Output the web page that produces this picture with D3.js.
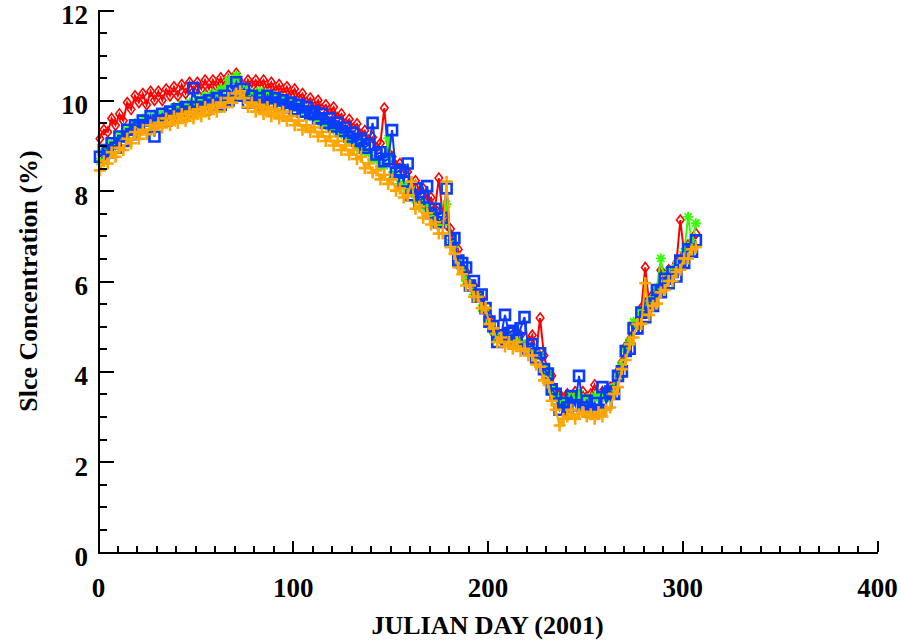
<!DOCTYPE html>
<html lang="en">
<head>
<meta charset="UTF-8">
<title>Slce Concentration 2001</title>
<script src="https://d3js.org/d3.v7.min.js"></script>
<style>
body { margin: 0; background: #ffffff; }
.axis path, .axis line { stroke: #000; stroke-width: 2; shape-rendering: crispEdges; }
.axis text { font-family: "Liberation Serif", serif; font-weight: bold; font-size: 27px; fill: #000; }
.label { font-family: "Liberation Serif", serif; font-weight: bold; font-size: 26px; fill: #000; }
.line { fill: none; stroke-width: 2; }
</style>
</head>
<body>
<div id="chart"></div>
<script>
// julian days sampled (every second day)
const days = [
  1,3,5,7,9, 11,13,15,17,19, 21,23,25,27,29, 31,33,35,37,39, 41,43,45,47,49,
  51,53,55,57,59, 61,63,65,67,69, 71,73,75,77,79, 81,83,85,87,89, 91,93,95,97,99,
  101,103,105,107,109, 111,113,115,117,119, 121,123,125,127,129, 131,133,135,137,139,
  141,143,145,147,149, 151,153,155,157,159, 161,163,165,167,169, 171,173,175,177,179,
  181,183,185,187,189, 191,193,195,197,199, 201,203,205,207,209, 211,213,215,217,219,
  221,223,225,227,229, 231,233,235,237,239, 241,243,245,247,249, 251,253,255,257,259,
  261,263,265,267,269, 271,273,275,277,279, 281,283,285,287,289, 291,293,295,297,299,
  301,303,305,307
];

// red diamonds
const redSeries = [
  9.15,9.35,9.3,9.6,9.45, 9.7,9.55,9.95,9.8,10.1, 9.95,10.15,9.9,10.2,10.0, 10.2,10.0,10.25,10.1,10.3,
  10.1,10.35,10.15,10.4,10.2, 10.4,10.25,10.45,10.25,10.45, 10.3,10.5,10.3,10.55,10.35, 10.6,10.4,10.2,10.45,10.3,
  10.45,10.3,10.45,10.25,10.4, 10.2,10.35,10.15,10.3,10.1, 10.25,10.05,10.15,9.95,10.05, 9.85,10.0,9.8,9.9,9.7,
  9.85,9.62,9.7,9.48,9.58, 9.38,9.48,9.25,9.33,9.12, 9.18,8.95,9.05,9.83,8.85, 8.75,8.55,8.6,8.4,8.42,
  8.15,8.22,7.98,8.05,7.8, 7.85,7.6,8.28,7.45,7.25, 7.15,6.8,6.7,6.3,6.2, 5.95,5.9,5.65,5.6,5.35,
  5.2,4.85,4.85,4.7,4.85, 4.8,4.8,4.65,4.8,4.55, 4.65,4.8,4.45,5.18,4.35, 4.0,3.9,3.55,3.5,3.35,
  3.5,3.45,3.55,3.45,3.55, 3.4,3.5,3.7,3.45,3.55, 3.45,3.65,3.7,4.0,4.2, 4.55,4.7,5.05,5.1,5.4,
  6.3,5.5,5.7,5.75,6.24, 6.05,6.25,6.2,6.4,7.35, 6.6,6.8,6.85,7.05
];

// green asterisks
const greenSeries = [
  8.65,8.85,8.85,9.05,9.0, 9.2,9.2,9.35,9.35,9.5, 9.45,9.6,9.55,9.65,9.6, 9.7,9.65,9.75,9.7,9.85,
  9.75,9.9,9.8,9.95,9.9, 10.0,9.95,10.1,10.0,10.15, 10.1,10.25,10.25,10.45,10.45, 10.55,10.3,10.25,10.1,10.15,
  10.05,10.2,10.05,10.15,10.0, 10.1,9.95,10.05,9.9,9.95, 9.85,9.9,9.75,9.8,9.65, 9.7,9.55,9.6,9.45,9.5,
  9.35,9.4,9.25,9.3,9.1, 9.15,8.95,9.0,8.85,8.85, 8.7,8.7,8.55,8.55,9.16, 8.35,8.35,8.15,8.15,8.0,
  8.0,7.8,7.8,7.65,7.65, 7.45,7.45,7.25,7.25,7.7, 6.85,6.75,6.4,6.25,6.0, 5.95,5.7,5.65,5.4,5.35,
  5.05,4.9,4.7,4.75,4.65, 4.8,4.65,4.7,4.55,4.6, 4.45,4.5,4.35,4.35,4.05, 3.95,3.6,3.45,3.25,3.35,
  3.3,3.45,3.35,3.5,3.35, 3.4,3.3,3.45,3.4,3.5, 3.4,3.6,3.65,3.95,4.15, 4.5,4.65,5.1,5.05,5.3,
  5.35,5.55,5.6,5.85,6.5, 5.95,6.2,6.15,6.35,6.4, 6.65,7.42,6.85,7.28
];

// blue squares
const blueSeries = [
  8.75,8.9,8.85,9.05,8.95, 9.2,9.1,9.35,9.25,9.45, 9.4,9.55,9.45,9.65,9.2, 9.55,9.7,9.55,9.75,9.65,
  9.8,9.65,9.85,9.75,10.27, 9.85,9.95,9.8,10.0,9.9, 10.05,9.9,10.1,10.0,10.2, 10.4,10.1,10.25,9.95,10.1,
  9.95,10.05,9.9,10.1,9.95, 10.05,9.9,10.0,9.85,9.95, 9.8,9.9,9.75,9.85,9.7, 9.75,9.6,9.7,9.5,9.6,
  9.42,9.5,9.32,9.4,9.2, 9.28,9.1,9.15,8.95,9.02, 9.5,8.8,8.85,8.65,8.7, 9.34,8.4,8.45,8.2,8.6,
  7.9,8.05,7.75,7.85,8.1, 7.5,7.6,7.3,7.4,8.05, 6.9,6.95,6.45,6.4,6.3, 5.9,6.0,5.65,5.7,5.4,
  5.1,5.0,4.65,4.8,5.25, 4.85,4.9,4.7,4.95,5.2, 4.5,4.6,4.3,4.4,4.05, 3.95,3.6,3.5,3.15,3.3,
  3.2,3.45,3.25,3.9,3.2, 3.35,3.1,3.3,3.15,3.65, 3.3,3.55,3.5,3.9,4.0, 4.45,4.5,4.95,4.95,5.3,
  5.2,5.5,5.45,5.8,5.75, 6.05,5.95,6.2,6.1,6.45, 6.4,6.7,6.65,6.9
];

// orange plus signs
const orangeSeries = [
  8.45,8.65,8.6,8.85,8.75, 8.95,8.9,9.15,9.05,9.3, 9.15,9.35,9.25,9.45,9.35, 9.5,9.4,9.6,9.45,9.65,
  9.5,9.7,9.55,9.75,9.6, 9.8,9.65,9.85,9.7,9.9, 9.75,9.95,9.85,10.05,9.95, 10.15,10.2,10.05,9.85,9.95,
  9.75,9.9,9.7,9.85,9.65, 9.8,9.6,9.75,9.55,9.65, 9.45,9.55,9.35,9.45,9.3, 9.4,9.2,9.3,9.1,9.2,
  9.0,9.1,8.9,9.0,8.8, 8.9,8.7,8.75,8.5,8.6, 8.4,8.45,8.25,8.35,8.15, 8.25,8.0,8.05,7.85,7.9,
  8.2,7.6,7.65,7.4,7.5, 7.25,7.3,7.05,7.05,8.2, 6.75,6.6,6.3,6.15,5.9, 5.9,5.65,5.65,5.4,5.4,
  5.05,4.95,4.65,4.75,4.55, 4.65,4.5,4.65,4.45,4.5, 4.35,4.35,4.15,4.1,3.8, 3.75,3.35,3.15,2.8,2.95,
  3.0,3.15,2.95,3.05,3.1, 3.0,3.05,2.95,3.1,3.0, 3.15,3.2,3.5,3.65,4.05, 4.25,4.6,4.75,5.05,5.05,
  5.95,5.25,5.45,5.5,5.75, 5.8,6.0,6.0,6.2,6.25, 6.5,6.5,6.7,6.75
];

const xTicks = [0, 100, 200, 300, 400];
const yTicks = [0, 2, 4, 6, 8, 10, 12];

const W = 901, H = 641;
const margin = { top: 10, right: 24, bottom: 89, left: 98 };
const width = W - margin.left - margin.right;
const height = H - margin.top - margin.bottom;

const svg = d3.select('#chart').append('svg')
  .attr('width', W)
  .attr('height', H);

const g = svg.append('g')
  .attr('transform', `translate(${margin.left},${margin.top})`);

const x = d3.scaleLinear().domain([0, 400]).range([0, width]);
const y = d3.scaleLinear().domain([0, 12]).range([height, 0]);

// marker shapes
const shapes = {
  diamond: r => `M0,${-r}L${r * 0.75},0L0,${r}L${-r * 0.75},0Z`,
  square: r => `M${-r},${-r}H${r}V${r}H${-r}Z`,
  plus: r => `M${-r},0H${r}M0,${-r}V${r}`,
  asterisk: r => {
    const d = r * 0.707;
    return `M${-r},0H${r}M0,${-r}V${r}M${-d},${-d}L${d},${d}M${-d},${d}L${d},${-d}`;
  }
};

const series = [
  { values: redSeries, color: '#ff0000', shape: 'diamond', r: 5, sw: 1.6 },
  { values: greenSeries, color: '#33ff00', shape: 'asterisk', r: 5, sw: 1.9 },
  { values: blueSeries, color: '#0a3cff', shape: 'square', r: 5, sw: 2.6 },
  { values: orangeSeries, color: '#ffa500', shape: 'plus', r: 6, sw: 2.6 }
];

const line = d3.line()
  .x((d, i) => x(days[i]))
  .y(d => y(d));

series.forEach(s => {
  g.append('path')
    .datum(s.values)
    .attr('class', 'line')
    .attr('stroke', s.color)
    .attr('d', line);

  g.append('g').selectAll('path')
    .data(s.values)
    .join('path')
    .attr('transform', (d, i) => `translate(${x(days[i])},${y(d)})`)
    .attr('d', shapes[s.shape](s.r))
    .attr('fill', 'none')
    .attr('stroke', s.color)
    .attr('stroke-width', s.sw);
});

// x axis: minor ticks every 10 days, major every 100
g.append('g')
  .attr('class', 'axis')
  .attr('transform', `translate(0,${height})`)
  .call(d3.axisBottom(x).tickValues(d3.range(0, 401, 10)).tickSize(-6).tickSizeOuter(0).tickFormat(''));

g.append('g')
  .attr('class', 'axis')
  .attr('transform', `translate(0,${height})`)
  .call(d3.axisBottom(x).tickValues(xTicks).tickSize(-11).tickSizeOuter(0).tickPadding(26).tickFormat(d3.format('d')));

// y axis: minor ticks every 0.5, major every 2
g.append('g')
  .attr('class', 'axis')
  .call(d3.axisLeft(y).tickValues(d3.range(0, 12.01, 0.5)).tickSize(-9).tickSizeOuter(0).tickFormat(''));

g.append('g')
  .attr('class', 'axis')
  .call(d3.axisLeft(y).tickValues(yTicks).tickSize(-16).tickSizeOuter(0).tickPadding(10).tickFormat(d3.format('d')))
  .call(a => a.selectAll('text').attr('dy', '0.5em'));

// axis titles
svg.append('text')
  .attr('class', 'label')
  .attr('x', margin.left + x(200))
  .attr('y', 634)
  .attr('text-anchor', 'middle')
  .text('JULIAN DAY (2001)');

svg.append('text')
  .attr('class', 'label')
  .attr('transform', `translate(37,281) rotate(-90)`)
  .attr('text-anchor', 'middle')
  .text('Slce Concentration (%)');
</script>
</body>
</html>
